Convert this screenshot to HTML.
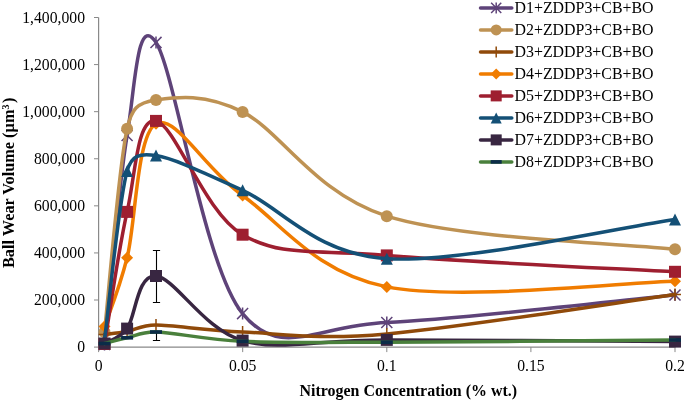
<!DOCTYPE html><html><head><meta charset="utf-8"><style>html,body{margin:0;padding:0;background:#fff;}body{width:685px;height:401px;overflow:hidden;}svg{display:block;font-family:"Liberation Serif",serif;will-change:transform;}</style></head><body>
<svg width="685" height="401" viewBox="0 0 685 401">
<path d="M98.6,17.5 V347.1 H675.5" stroke="#898989" stroke-width="1.2" fill="none"/>
<path d="M94.0,347.10 H98.6" stroke="#898989" stroke-width="1"/>
<text x="85" y="352.30" font-size="15.7" text-anchor="end" fill="#000">0</text>
<path d="M94.0,300.01 H98.6" stroke="#898989" stroke-width="1"/>
<text x="85" y="305.21" font-size="15.7" text-anchor="end" fill="#000">200,000</text>
<path d="M94.0,252.93 H98.6" stroke="#898989" stroke-width="1"/>
<text x="85" y="258.13" font-size="15.7" text-anchor="end" fill="#000">400,000</text>
<path d="M94.0,205.84 H98.6" stroke="#898989" stroke-width="1"/>
<text x="85" y="211.04" font-size="15.7" text-anchor="end" fill="#000">600,000</text>
<path d="M94.0,158.76 H98.6" stroke="#898989" stroke-width="1"/>
<text x="85" y="163.96" font-size="15.7" text-anchor="end" fill="#000">800,000</text>
<path d="M94.0,111.67 H98.6" stroke="#898989" stroke-width="1"/>
<text x="85" y="116.87" font-size="15.7" text-anchor="end" fill="#000">1,000,000</text>
<path d="M94.0,64.59 H98.6" stroke="#898989" stroke-width="1"/>
<text x="85" y="69.79" font-size="15.7" text-anchor="end" fill="#000">1,200,000</text>
<path d="M94.0,17.50 H98.6" stroke="#898989" stroke-width="1"/>
<text x="85" y="22.70" font-size="15.7" text-anchor="end" fill="#000">1,400,000</text>
<path d="M98.60,347.1 V352.1" stroke="#898989" stroke-width="1"/>
<text x="98.60" y="371.0" font-size="15.7" text-anchor="middle" fill="#000">0</text>
<path d="M242.70,347.1 V352.1" stroke="#898989" stroke-width="1"/>
<text x="242.70" y="371.0" font-size="15.7" text-anchor="middle" fill="#000">0.05</text>
<path d="M386.80,347.1 V352.1" stroke="#898989" stroke-width="1"/>
<text x="386.80" y="371.0" font-size="15.7" text-anchor="middle" fill="#000">0.1</text>
<path d="M530.90,347.1 V352.1" stroke="#898989" stroke-width="1"/>
<text x="530.90" y="371.0" font-size="15.7" text-anchor="middle" fill="#000">0.15</text>
<path d="M675.00,347.1 V352.1" stroke="#898989" stroke-width="1"/>
<text x="675.00" y="371.0" font-size="15.7" text-anchor="middle" fill="#000">0.2</text>
<text x="408.3" y="395.6" font-size="15.95" font-weight="bold" text-anchor="middle">Nitrogen Concentration (% wt.)</text>
<text transform="translate(14.0,182.8) rotate(-90)" font-size="16.3" font-weight="bold" text-anchor="middle">Ball Wear Volume (µm<tspan dy="-5" font-size="10">3</tspan><tspan dy="5" dx="1.5">)</tspan></text>
<path d="M104.50,344.50 C108.27,309.67 118.52,185.85 127.10,135.50 C135.29,87.45 136.75,12.72 156.00,42.40 C175.25,72.08 204.13,266.92 242.60,313.60 C281.07,360.28 314.73,325.60 386.80,322.50 C458.87,319.40 626.97,299.58 675.00,295.00" stroke="#5E4379" stroke-width="3.5" fill="none" stroke-linecap="round" stroke-linejoin="round"/><path d="M98.98,338.98 L110.02,350.02 M98.98,350.02 L110.02,338.98 M104.50,338.50 L104.50,350.50" stroke="#5E4379" stroke-width="1.5" fill="none"/><path d="M121.58,129.98 L132.62,141.02 M121.58,141.02 L132.62,129.98 M127.10,129.50 L127.10,141.50" stroke="#5E4379" stroke-width="1.5" fill="none"/><path d="M150.48,36.88 L161.52,47.92 M150.48,47.92 L161.52,36.88 M156.00,36.40 L156.00,48.40" stroke="#5E4379" stroke-width="1.5" fill="none"/><path d="M237.08,308.08 L248.12,319.12 M237.08,319.12 L248.12,308.08 M242.60,307.60 L242.60,319.60" stroke="#5E4379" stroke-width="1.5" fill="none"/><path d="M381.28,316.98 L392.32,328.02 M381.28,328.02 L392.32,316.98 M386.80,316.50 L386.80,328.50" stroke="#5E4379" stroke-width="1.5" fill="none"/><path d="M669.48,289.48 L680.52,300.52 M669.48,300.52 L680.52,289.48 M675.00,289.00 L675.00,301.00" stroke="#5E4379" stroke-width="1.5" fill="none"/>
<path d="M104.50,332.00 C108.27,298.13 118.52,167.47 127.10,128.80 C131.52,108.88 136.75,102.82 156.00,100.00 C175.25,97.18 204.13,92.53 242.60,111.90 C281.07,131.27 314.73,193.32 386.80,216.20 C458.87,239.08 626.97,243.70 675.00,249.20" stroke="#BE9253" stroke-width="3.5" fill="none" stroke-linecap="round" stroke-linejoin="round"/><circle cx="104.50" cy="332.00" r="6.00" fill="#BE9253"/><circle cx="127.10" cy="128.80" r="6.00" fill="#BE9253"/><circle cx="156.00" cy="100.00" r="6.00" fill="#BE9253"/><circle cx="242.60" cy="111.90" r="6.00" fill="#BE9253"/><circle cx="386.80" cy="216.20" r="6.00" fill="#BE9253"/><circle cx="675.00" cy="249.20" r="6.00" fill="#BE9253"/>
<path d="M104.50,334.50 C108.27,334.00 118.52,333.08 127.10,331.50 C135.68,329.92 141.19,324.94 156.00,325.00 C175.25,325.08 204.13,330.50 242.60,332.00 C281.07,333.50 314.96,340.23 386.80,334.00 C458.87,327.75 626.97,301.08 675.00,294.50" stroke="#904A0A" stroke-width="3.5" fill="none" stroke-linecap="round" stroke-linejoin="round"/><path d="M98.50,334.50 L110.50,334.50 M104.50,328.50 L104.50,340.50" stroke="#904A0A" stroke-width="1.5" fill="none"/><path d="M121.10,331.50 L133.10,331.50 M127.10,325.50 L127.10,337.50" stroke="#904A0A" stroke-width="1.5" fill="none"/><path d="M150.00,325.00 L162.00,325.00 M156.00,319.00 L156.00,331.00" stroke="#904A0A" stroke-width="1.5" fill="none"/><path d="M236.60,332.00 L248.60,332.00 M242.60,326.00 L242.60,338.00" stroke="#904A0A" stroke-width="1.5" fill="none"/><path d="M380.80,334.00 L392.80,334.00 M386.80,328.00 L386.80,340.00" stroke="#904A0A" stroke-width="1.5" fill="none"/><path d="M669.00,294.50 L681.00,294.50 M675.00,288.50 L675.00,300.50" stroke="#904A0A" stroke-width="1.5" fill="none"/>
<path d="M104.50,326.60 C108.27,315.13 118.52,291.62 127.10,257.80 C135.68,223.98 136.75,134.08 156.00,123.70 C175.25,113.32 204.13,168.30 242.60,195.50 C281.07,222.70 314.73,272.60 386.80,286.90 C458.87,301.20 626.97,282.23 675.00,281.30" stroke="#F07C00" stroke-width="3.5" fill="none" stroke-linecap="round" stroke-linejoin="round"/><path d="M104.50,320.60 L110.50,326.60 L104.50,332.60 L98.50,326.60 Z" fill="#F07C00"/><path d="M127.10,251.80 L133.10,257.80 L127.10,263.80 L121.10,257.80 Z" fill="#F07C00"/><path d="M156.00,117.70 L162.00,123.70 L156.00,129.70 L150.00,123.70 Z" fill="#F07C00"/><path d="M242.60,189.50 L248.60,195.50 L242.60,201.50 L236.60,195.50 Z" fill="#F07C00"/><path d="M386.80,280.90 L392.80,286.90 L386.80,292.90 L380.80,286.90 Z" fill="#F07C00"/><path d="M675.00,275.30 L681.00,281.30 L675.00,287.30 L669.00,281.30 Z" fill="#F07C00"/>
<path d="M104.50,344.00 C108.27,321.98 118.52,249.08 127.10,211.90 C135.68,174.72 136.75,117.10 156.00,120.90 C175.25,124.70 204.13,212.28 242.60,234.70 C281.07,257.12 314.73,249.22 386.80,255.40 C458.87,261.58 626.97,269.07 675.00,271.80" stroke="#9E1F30" stroke-width="3.5" fill="none" stroke-linecap="round" stroke-linejoin="round"/><rect x="98.50" y="338.00" width="12.00" height="12.00" fill="#9E1F30"/><rect x="121.10" y="205.90" width="12.00" height="12.00" fill="#9E1F30"/><rect x="150.00" y="114.90" width="12.00" height="12.00" fill="#9E1F30"/><rect x="236.60" y="228.70" width="12.00" height="12.00" fill="#9E1F30"/><rect x="380.80" y="249.40" width="12.00" height="12.00" fill="#9E1F30"/><rect x="669.00" y="265.80" width="12.00" height="12.00" fill="#9E1F30"/>
<path d="M104.50,340.00 C108.27,311.83 118.52,201.73 127.10,171.00 C131.50,155.23 139.85,152.90 156.00,155.60 C175.25,158.82 204.13,173.12 242.60,190.30 C281.07,207.48 314.73,253.85 386.80,258.70 C458.87,263.55 626.97,225.95 675.00,219.40" stroke="#145076" stroke-width="3.5" fill="none" stroke-linecap="round" stroke-linejoin="round"/><path d="M104.50,334.00 L110.50,346.00 L98.50,346.00 Z" fill="#145076"/><path d="M127.10,165.00 L133.10,177.00 L121.10,177.00 Z" fill="#145076"/><path d="M156.00,149.60 L162.00,161.60 L150.00,161.60 Z" fill="#145076"/><path d="M242.60,184.30 L248.60,196.30 L236.60,196.30 Z" fill="#145076"/><path d="M386.80,252.70 L392.80,264.70 L380.80,264.70 Z" fill="#145076"/><path d="M675.00,213.40 L681.00,225.40 L669.00,225.40 Z" fill="#145076"/>
<path d="M104.50,343.50 C108.27,341.02 118.89,339.36 127.10,328.60 C135.68,317.35 136.75,274.00 156.00,276.00 C175.25,278.00 204.13,329.95 242.60,340.60 C281.07,351.25 314.73,339.73 386.80,339.90 C458.87,340.07 626.97,341.32 675.00,341.60" stroke="#382641" stroke-width="3.5" fill="none" stroke-linecap="round" stroke-linejoin="round"/><path d="M156.50,250.50 V302.50 M152.90,302.50 H160.10 M152.90,250.50 H160.10" stroke="#000" stroke-width="1.1" fill="none"/><rect x="98.50" y="337.50" width="12.00" height="12.00" fill="#382641"/><rect x="121.10" y="322.60" width="12.00" height="12.00" fill="#382641"/><rect x="150.00" y="270.00" width="12.00" height="12.00" fill="#382641"/><rect x="236.60" y="334.60" width="12.00" height="12.00" fill="#382641"/><rect x="380.80" y="333.90" width="12.00" height="12.00" fill="#382641"/><rect x="669.00" y="335.60" width="12.00" height="12.00" fill="#382641"/>
<path d="M104.50,343.50 C108.27,342.55 118.52,339.72 127.10,337.80 C135.68,335.88 141.27,331.55 156.00,332.00 C175.25,332.58 204.13,339.60 242.60,341.30 C281.07,343.00 314.73,342.42 386.80,342.20 C458.87,341.98 626.97,340.37 675.00,340.00" stroke="#4A803C" stroke-width="3.5" fill="none" stroke-linecap="round" stroke-linejoin="round"/><path d="M156.50,332.00 V340.50 M152.90,340.50 H160.10" stroke="#000" stroke-width="1.1" fill="none"/><rect x="98.50" y="341.70" width="12.00" height="3.60" fill="#0B2C48"/><rect x="121.10" y="336.00" width="12.00" height="3.60" fill="#0B2C48"/><rect x="150.00" y="330.20" width="12.00" height="3.60" fill="#0B2C48"/><rect x="236.60" y="339.50" width="12.00" height="3.60" fill="#0B2C48"/><rect x="380.80" y="340.40" width="12.00" height="3.60" fill="#0B2C48"/><rect x="669.00" y="338.20" width="12.00" height="3.60" fill="#0B2C48"/>
<path d="M480.5,7.90 H511.8" stroke="#5E4379" stroke-width="3.5" stroke-linecap="round"/>
<path d="M491.14,2.84 L501.26,12.96 M491.14,12.96 L501.26,2.84 M496.20,2.40 L496.20,13.40" stroke="#5E4379" stroke-width="1.5" fill="none"/>
<text x="514.5" y="13.10" font-size="15.9" fill="#000">D1+ZDDP3+CB+BO</text>
<path d="M480.5,29.90 H511.8" stroke="#BE9253" stroke-width="3.5" stroke-linecap="round"/>
<circle cx="496.20" cy="29.90" r="5.50" fill="#BE9253"/>
<text x="514.5" y="35.10" font-size="15.9" fill="#000">D2+ZDDP3+CB+BO</text>
<path d="M480.5,51.90 H511.8" stroke="#904A0A" stroke-width="3.5" stroke-linecap="round"/>
<path d="M490.70,51.90 L501.70,51.90 M496.20,46.40 L496.20,57.40" stroke="#904A0A" stroke-width="1.5" fill="none"/>
<text x="514.5" y="57.10" font-size="15.9" fill="#000">D3+ZDDP3+CB+BO</text>
<path d="M480.5,73.90 H511.8" stroke="#F07C00" stroke-width="3.5" stroke-linecap="round"/>
<path d="M496.20,68.40 L501.70,73.90 L496.20,79.40 L490.70,73.90 Z" fill="#F07C00"/>
<text x="514.5" y="79.10" font-size="15.9" fill="#000">D4+ZDDP3+CB+BO</text>
<path d="M480.5,95.90 H511.8" stroke="#9E1F30" stroke-width="3.5" stroke-linecap="round"/>
<rect x="490.70" y="90.40" width="11.00" height="11.00" fill="#9E1F30"/>
<text x="514.5" y="101.10" font-size="15.9" fill="#000">D5+ZDDP3+CB+BO</text>
<path d="M480.5,117.90 H511.8" stroke="#145076" stroke-width="3.5" stroke-linecap="round"/>
<path d="M496.20,112.40 L501.70,123.40 L490.70,123.40 Z" fill="#145076"/>
<text x="514.5" y="123.10" font-size="15.9" fill="#000">D6+ZDDP3+CB+BO</text>
<path d="M480.5,139.90 H511.8" stroke="#382641" stroke-width="3.5" stroke-linecap="round"/>
<rect x="490.70" y="134.40" width="11.00" height="11.00" fill="#382641"/>
<text x="514.5" y="145.10" font-size="15.9" fill="#000">D7+ZDDP3+CB+BO</text>
<path d="M480.5,161.90 H511.8" stroke="#4A803C" stroke-width="3.5" stroke-linecap="round"/>
<rect x="490.70" y="160.10" width="11.00" height="3.60" fill="#0B2C48"/>
<text x="514.5" y="167.10" font-size="15.9" fill="#000">D8+ZDDP3+CB+BO</text>
</svg></body></html>
